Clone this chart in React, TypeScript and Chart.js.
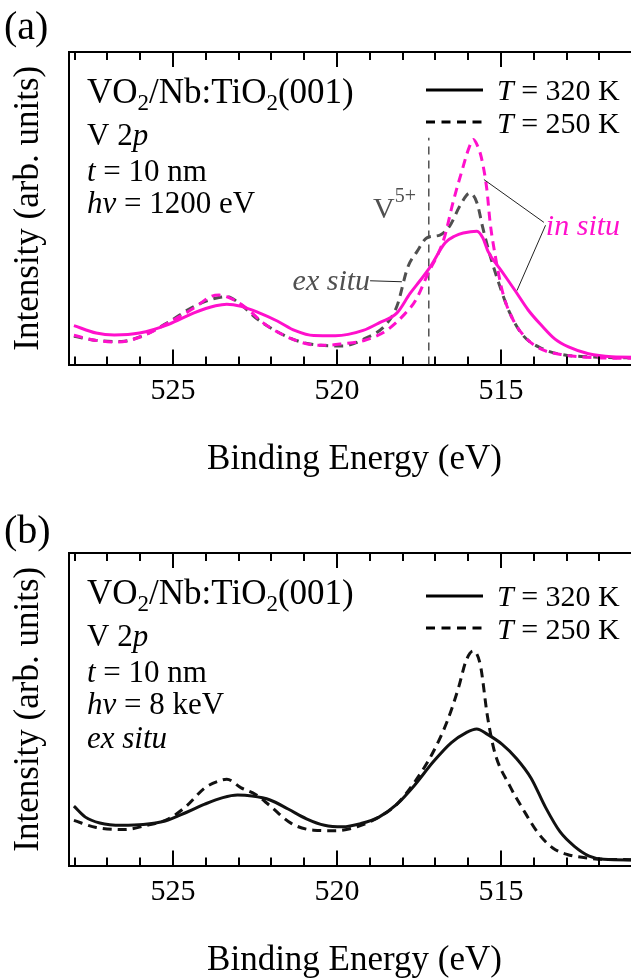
import React, { useEffect, useRef } from "react";
import { Chart, registerables } from "chart.js";

Chart.register(...registerables);

const SERIF = '"Liberation Serif", "Times New Roman", Times, serif';
Chart.defaults.font.family = SERIF;
const MAGENTA = "#ff10cc";
const GRAY = "#505050";
const BLACK = "#111111";

// ---------- axis ----------
const X_MIN = 510.76;
const X_MAX = 528.17;
const Y_MAX = 321;
const xMajorTicks = [525, 520, 515];

// ---------- panel (a): hv = 1200 eV ----------
const aInSitu320E = [528.02, 527.34, 526.79, 526.02, 525.13, 524.36, 523.7, 523.36, 522.92, 522.37, 521.82, 521.27, 520.71, 520.05, 519.2, 518.7, 518.17, 517.77, 517.47, 517.16, 516.7, 516.4, 516.15, 515.73, 515.55, 515.39, 514.98, 514.57, 514.17, 513.76, 513.35, 512.94, 512.33, 511.62, 510.7];
const aInSitu320I = [40, 32.3, 30.3, 32.3, 41.3, 53, 60.3, 62, 59.7, 53, 44.7, 34.7, 29.7, 29.5, 35, 43, 53, 73, 86, 100, 125, 132, 135, 137, 130, 116, 96, 76, 56, 40, 26, 18, 11, 8, 7.5];

const aInSitu250E = [528.02, 527.34, 526.68, 526.02, 525.13, 524.36, 523.81, 523.59, 523.14, 522.7, 522.26, 521.6, 520.93, 520.38, 519.83, 519.17, 518.5, 517.93, 517.6, 517.2, 516.9, 516.72, 516.45, 516.18, 515.98, 515.84, 515.72, 515.6, 515.43, 515.33, 515.18, 514.94, 514.63, 514.2, 513.72, 513.1, 512.4, 511.5, 510.7];
const aInSitu250I = [30, 24.7, 23, 28, 43, 58, 70.3, 71.3, 66.3, 56.3, 43, 29.7, 21.3, 19.7, 21.3, 24.7, 34.7, 52, 66, 95, 115, 131, 168, 200, 222, 231, 225, 213, 180, 146, 113, 73, 46, 26, 15, 10, 7.5, 6.5, 6.5];

const aExSitu250E = [528.02, 527.34, 526.57, 525.91, 525.13, 524.36, 523.7, 523.36, 522.92, 522.48, 521.82, 521.15, 520.49, 519.83, 519.17, 518.5, 518.17, 517.84, 517.56, 517.26, 516.86, 516.55, 516.25, 515.95, 515.73, 515.55, 515.34, 515.03, 514.73, 514.33, 513.72, 513.1, 512.4, 511.5, 510.7];
const aExSitu250I = [29, 24.7, 23.7, 29.7, 43.7, 59.7, 68, 69.7, 61.3, 48, 33.7, 23.7, 19.7, 19, 26.3, 41.3, 60, 100, 116, 130, 133, 143, 163, 176, 166, 140, 113, 80, 53, 30, 16, 10, 8, 7, 7];

// V5+ marker and annotation leaders (energy, intensity)
const v5LineE = [517.2, 517.2];
const v5LineI = [0, 233];
const exSituLeaderE = [518.99, 518.02];
const exSituLeaderI = [86, 85];
const inSituLeader1E = [515.52, 513.69];
const inSituLeader1I = [190, 146];
const inSituLeader2E = [513.64, 514.51];
const inSituLeader2I = [143, 76];
const v5Label = { e: 518.9, i: 150 };
const exSituLabel = { e: 518.99, i: 77 };
const inSituLabel = { e: 513.63, i: 133 };

// ---------- panel (b): hv = 8 keV ----------
const b320E = [528.02, 527.67, 527.23, 526.57, 525.91, 525.24, 524.58, 524.03, 523.48, 523.03, 522.59, 522.04, 521.49, 520.93, 520.38, 519.83, 519.28, 518.72, 518.17, 517.62, 517.07, 516.51, 516.07, 515.74, 515.41, 514.97, 514.52, 514.08, 513.64, 513.2, 512.76, 512.31, 511.87, 511.12, 510.7];
const b320I = [61, 49.7, 43.7, 41.3, 42, 45.7, 54.7, 63, 69.7, 72.3, 71.3, 67.3, 58, 48, 41.3, 39.7, 43, 49.7, 63, 83, 106.3, 126.3, 136.3, 140.3, 134.7, 124.7, 109.7, 89.7, 59.7, 34.7, 19.7, 9.7, 6.3, 5.7, 5.7];

const b250E = [528.02, 527.34, 526.46, 525.8, 525.13, 524.58, 524.03, 523.59, 523.36, 522.92, 522.48, 522.04, 521.38, 520.71, 520.05, 519.39, 518.72, 518.17, 517.62, 517.07, 516.62, 516.29, 516.07, 515.85, 515.63, 515.41, 515.19, 514.75, 514.3, 513.86, 513.42, 512.98, 512.43, 511.87, 510.7];
const b250I = [46.3, 39, 37, 41.3, 48, 61.3, 79.7, 87, 88.7, 79.7, 73, 61.3, 43, 36.3, 35.7, 39.7, 49.7, 63, 86.3, 116.3, 149.7, 183, 209.7, 220.3, 206.3, 153, 116.3, 83, 56.3, 33, 18, 11.3, 8, 6.3, 6];

// ---------- helpers ----------
type Seg = { t: string; i?: boolean; s?: number; dy?: number };

function pts(es: number[], is: number[]) {
  return es.map((e, k) => ({ x: e, y: is[k] }));
}

function curve(label: string, es: number[], is: number[], color: string, dashed: boolean, order: number) {
  return {
    label,
    data: pts(es, is),
    borderColor: color,
    borderWidth: 3,
    borderDash: dashed ? [9, 6] : [],
    borderCapStyle: "butt",
    pointRadius: 0,
    fill: false,
    cubicInterpolationMode: "monotone",
    order,
  };
}

function straight(label: string, es: number[], is: number[], color: string, width: number, dash: number[], order: number) {
  return {
    label,
    data: pts(es, is),
    borderColor: color,
    borderWidth: width,
    borderDash: dash,
    pointRadius: 0,
    fill: false,
    tension: 0,
    order,
  };
}

function drawRich(ctx: CanvasRenderingContext2D, segs: Seg[], x: number, y: number, size: number, color: string) {
  let cx = x;
  ctx.fillStyle = color;
  ctx.textBaseline = "alphabetic";
  ctx.textAlign = "left";
  for (const sg of segs) {
    const sz = sg.s ?? size;
    ctx.font = `${sg.i ? "italic " : ""}${sz}px ${SERIF}`;
    ctx.fillText(sg.t, cx, y + (sg.dy ?? 0));
    cx += ctx.measureText(sg.t).width;
  }
  return cx - x;
}

function richWidth(ctx: CanvasRenderingContext2D, segs: Seg[], size: number) {
  let w = 0;
  for (const sg of segs) {
    const sz = sg.s ?? size;
    ctx.font = `${sg.i ? "italic " : ""}${sz}px ${SERIF}`;
    w += ctx.measureText(sg.t).width;
  }
  return w;
}

const titleLine: Seg[] = [
  { t: "VO" },
  { t: "2", s: 23, dy: 7 },
  { t: "/Nb:TiO" },
  { t: "2", s: 23, dy: 7 },
  { t: "(001)" },
];

type PanelCfg = {
  id: string;
  label: string;
  labelBaseline: number;
  legendDy: number;
  lines: { segs: Seg[]; dy: number; size: number }[];
  datasets: any[];
  extras?: (chart: any) => void;
};

const panelA: PanelCfg = {
  id: "a",
  label: "(a)",
  labelBaseline: 39,
  legendDy: 0,
  lines: [
    { segs: titleLine, dy: 51, size: 35 },
    { segs: [{ t: "V 2" }, { t: "p", i: true }], dy: 93, size: 31 },
    { segs: [{ t: "t", i: true }, { t: " = 10 nm" }], dy: 129, size: 31 },
    { segs: [{ t: "hv", i: true }, { t: " = 1200 eV" }], dy: 161, size: 31 },
  ],
  datasets: [
    curve("in situ 320 K", aInSitu320E, aInSitu320I, MAGENTA, false, 1),
    curve("in situ 250 K", aInSitu250E, aInSitu250I, MAGENTA, true, 2),
    curve("ex situ 250 K", aExSitu250E, aExSitu250I, GRAY, true, 3),
    straight("V5+", v5LineE, v5LineI, GRAY, 1.5, [8, 6], 4),
    straight("ex situ leader", exSituLeaderE, exSituLeaderI, "#222", 1, [], 0),
    straight("in situ leader 1", inSituLeader1E, inSituLeader1I, "#222", 1, [], 0),
    straight("in situ leader 2", inSituLeader2E, inSituLeader2I, "#222", 1, [], 0),
  ],
  extras: (chart: any) => {
    const { ctx, scales } = chart;
    const xs = scales.x;
    const ys = scales.y;
    // V5+
    const vx = xs.getPixelForValue(v5Label.e);
    const vy = ys.getPixelForValue(v5Label.i);
    const vw = drawRich(ctx, [{ t: "V" }], vx, vy, 30, GRAY);
    drawRich(ctx, [{ t: "5+", s: 20 }], vx + vw, vy - 16, 20, GRAY);
    // ex situ (right aligned)
    const exSegs: Seg[] = [{ t: "ex situ", i: true }];
    const ew = richWidth(ctx, exSegs, 30);
    drawRich(ctx, exSegs, xs.getPixelForValue(exSituLabel.e) - ew, ys.getPixelForValue(exSituLabel.i), 30, GRAY);
    // in situ
    drawRich(ctx, [{ t: "in situ", i: true }], xs.getPixelForValue(inSituLabel.e), ys.getPixelForValue(inSituLabel.i), 30, MAGENTA);
  },
};

const panelB: PanelCfg = {
  id: "b",
  label: "(b)",
  labelBaseline: 42,
  legendDy: 5,
  lines: [
    { segs: titleLine, dy: 51, size: 35 },
    { segs: [{ t: "V 2" }, { t: "p", i: true }], dy: 93, size: 31 },
    { segs: [{ t: "t", i: true }, { t: " = 10 nm" }], dy: 129, size: 31 },
    { segs: [{ t: "hv", i: true }, { t: " = 8 keV" }], dy: 161, size: 31 },
    { segs: [{ t: "ex situ", i: true }], dy: 195, size: 31 },
  ],
  datasets: [
    curve("320 K", b320E, b320I, BLACK, false, 1),
    curve("250 K", b250E, b250I, BLACK, true, 2),
  ],
};

function makePlugin(cfg: PanelCfg) {
  return {
    id: "decor-" + cfg.id,
    afterDraw(chart: any) {
      const { ctx, chartArea: a, scales } = chart;
      const xs = scales.x;
      ctx.save();
      // top frame + inward ticks
      ctx.strokeStyle = "#000";
      ctx.lineWidth = 2;
      ctx.setLineDash([]);
      ctx.beginPath();
      ctx.moveTo(a.left - 1, a.top);
      ctx.lineTo(a.right, a.top);
      ctx.stroke();
      for (let e = Math.ceil(X_MIN); e <= Math.floor(X_MAX); e++) {
        const px = Math.round(xs.getPixelForValue(e));
        const len = e % 5 === 0 ? 15 : 8;
        ctx.beginPath();
        ctx.moveTo(px, a.bottom);
        ctx.lineTo(px, a.bottom - len);
        ctx.moveTo(px, a.top);
        ctx.lineTo(px, a.top + len);
        ctx.stroke();
      }
      // panel label
      drawRich(ctx, [{ t: cfg.label }], 4, cfg.labelBaseline, 40, "#000");
      // text block
      for (const ln of cfg.lines) {
        drawRich(ctx, ln.segs, a.left + 18, a.top + ln.dy, ln.size, "#000");
      }
      // legend
      const lx0 = a.left + 357;
      const lx1 = a.left + 414;
      const tx = a.left + 428;
      const rows = [
        { dash: [] as number[], ly: 38, ty: 48, txt: " = 320 K" },
        { dash: [9, 6.5], ly: 70, ty: 81, txt: " = 250 K" },
      ];
      for (const r of rows) {
        ctx.strokeStyle = "#000";
        ctx.lineWidth = 3;
        ctx.setLineDash(r.dash);
        ctx.beginPath();
        ctx.moveTo(lx0, a.top + r.ly + cfg.legendDy);
        ctx.lineTo(lx1, a.top + r.ly + cfg.legendDy);
        ctx.stroke();
        ctx.setLineDash([]);
        drawRich(ctx, [{ t: "T", i: true }, { t: r.txt }], tx, a.top + r.ty + cfg.legendDy, 30, "#000");
      }
      if (cfg.extras) cfg.extras(chart);
      ctx.restore();
    },
  };
}

function makeConfig(cfg: PanelCfg): any {
  return {
    type: "line",
    data: { datasets: cfg.datasets },
    options: {
      responsive: false,
      animation: false,
      devicePixelRatio: 1,
      events: [],
      layout: { padding: { top: 52, left: 0, right: 0, bottom: 0 } },
      plugins: { legend: { display: false }, tooltip: { enabled: false } },
      scales: {
        x: {
          type: "linear",
          position: "bottom",
          reverse: true,
          min: X_MIN,
          max: X_MAX,
          grid: { display: false, drawTicks: false },
          border: { display: true, color: "#000", width: 2 },
          afterBuildTicks: (s: any) => {
            s.ticks = xMajorTicks.map((v) => ({ value: v }));
          },
          ticks: {
            color: "#000",
            font: { family: SERIF, size: 30, lineHeight: 1.2 },
            padding: 8.5,
            maxRotation: 0,
            autoSkip: false,
            callback: (v: any) => String(v),
          },
          title: {
            display: true,
            text: "Binding Energy (eV)",
            color: "#000",
            font: { family: SERIF, size: 35, lineHeight: 1.2 },
            padding: { top: 21.5, bottom: 20 },
          },
        },
        y: {
          type: "linear",
          position: "left",
          min: 0,
          max: Y_MAX,
          grid: { display: false, drawTicks: false },
          border: { display: true, color: "#000", width: 2 },
          ticks: { display: false },
          title: {
            display: true,
            text: "Intensity (arb. units)",
            color: "#000",
            font: { family: SERIF, size: 35, lineHeight: 1.2 },
            padding: { top: 8, bottom: 19 },
          },
        },
      },
    },
    plugins: [makePlugin(cfg)],
  };
}

function Panel({ cfg, top }: { cfg: PanelCfg; top: number }) {
  const ref = useRef<HTMLCanvasElement | null>(null);
  useEffect(() => {
    if (!ref.current) return;
    const chart = new Chart(ref.current, makeConfig(cfg));
    return () => chart.destroy();
  }, [cfg]);
  return (
    <canvas
      ref={ref}
      width={640}
      height={501}
      style={{ position: "absolute", left: 0, top, width: 640, height: 501 }}
    />
  );
}

export default function App() {
  return (
    <div
      style={{
        position: "absolute",
        left: 0,
        top: 0,
        width: 631,
        height: 980,
        overflow: "hidden",
        background: "#fff",
      }}
    >
      <Panel cfg={panelA} top={0} />
      <Panel cfg={panelB} top={501} />
    </div>
  );
}
